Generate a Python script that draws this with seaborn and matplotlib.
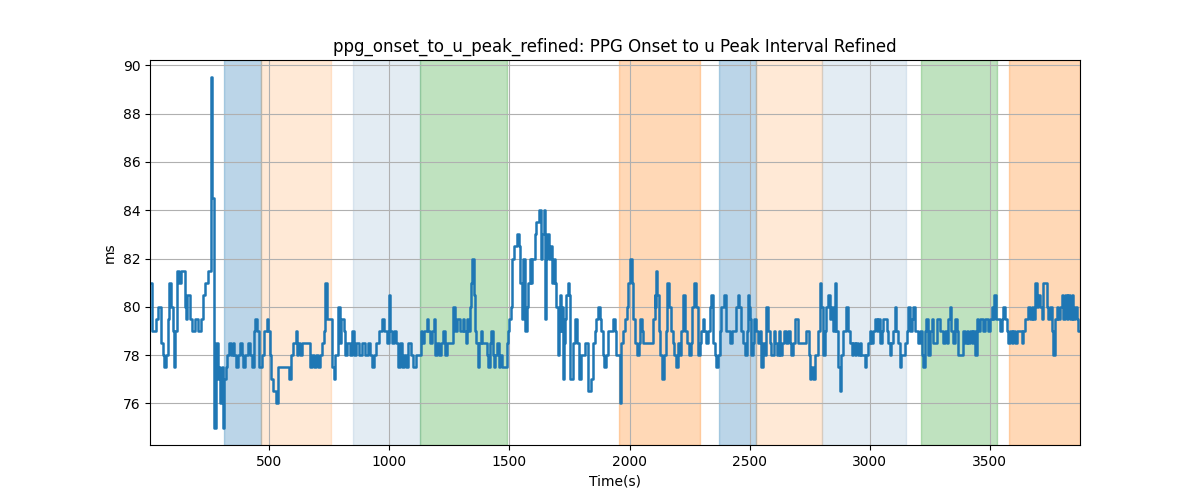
#!/usr/bin/env python3
# -*- coding: utf-8 -*-
"""
PPG onset -> u peak interval (refined), with condition bands shaded behind the trace
"""
import matplotlib
matplotlib.use('Agg')
import matplotlib.pyplot as plt
import seaborn as sns

# ========== data ==========
time_s = [
    4, 12, 30, 38, 48, 58, 64, 72, 80, 85, 90, 100, 103, 110, 118, 125, 135, 150, 155, 160,
    170, 180, 190, 205, 215, 225, 235, 245, 257, 264, 270, 278, 285, 292, 297, 302, 306, 312, 319, 326,
    333, 340, 348, 355, 362, 370, 378, 386, 392, 400, 410, 420, 428, 435, 442, 450, 456, 470, 480, 490,
    497, 503, 508, 515, 528, 535, 583, 590, 600, 611, 615, 622, 628, 635, 645, 660, 672, 680, 687, 695,
    702, 710, 718, 727, 733, 740, 752, 762, 769, 776, 785, 793, 800, 810, 815, 825, 835, 845, 853, 862,
    872, 885, 898, 910, 920, 928, 935, 945, 958, 968, 980, 990, 998, 1004, 1012, 1020, 1028, 1035, 1045, 1052,
    1060, 1068, 1077, 1090, 1100, 1110, 1120, 1130, 1138, 1145, 1155, 1163, 1170, 1178, 1186, 1192, 1198, 1205, 1215, 1225,
    1232, 1240, 1250, 1265, 1272, 1280, 1295, 1305, 1313, 1318, 1322, 1328, 1334, 1340, 1345, 1352, 1358, 1362, 1368, 1375,
    1380, 1386, 1395, 1405, 1412, 1418, 1424, 1430, 1436, 1442, 1448, 1455, 1462, 1470, 1480, 1488, 1495, 1500, 1505, 1510,
    1520, 1530, 1538, 1545, 1552, 1558, 1565, 1572, 1578, 1585, 1590, 1596, 1605, 1612, 1622, 1630, 1636, 1642, 1648, 1652,
    1658, 1664, 1670, 1677, 1684, 1690, 1696, 1702, 1708, 1712, 1716, 1720, 1722, 1726, 1730, 1736, 1742, 1748, 1754, 1764,
    1773, 1781, 1788, 1799, 1815, 1826, 1838, 1848, 1855, 1862, 1868, 1876, 1882, 1888, 1895, 1902, 1910, 1925, 1930, 1938,
    1945, 1960, 1965, 1972, 1980, 1988, 1995, 2002, 2010, 2016, 2022, 2030, 2038, 2045, 2052, 2058, 2070, 2090, 2097, 2104,
    2108, 2111, 2116, 2122, 2128, 2135, 2142, 2150, 2158, 2165, 2172, 2180, 2186, 2194, 2202, 2208, 2215, 2222, 2230, 2240,
    2248, 2255, 2262, 2270, 2277, 2285, 2292, 2298, 2305, 2312, 2320, 2327, 2333, 2340, 2347, 2354, 2361, 2368, 2375, 2382,
    2392, 2400, 2410, 2418, 2425, 2435, 2443, 2450, 2456, 2462, 2472, 2480, 2487, 2493, 2497, 2500, 2507, 2514, 2520, 2528,
    2535, 2542, 2548, 2555, 2562, 2569, 2576, 2583, 2590, 2600, 2607, 2614, 2621, 2628, 2636, 2645, 2652, 2660, 2667, 2673,
    2680, 2687, 2700, 2720, 2735, 2745, 2750, 2757, 2764, 2772, 2785, 2792, 2799, 2806, 2812, 2818, 2826, 2833, 2840, 2847,
    2854, 2861, 2868, 2875, 2882, 2889, 2896, 2903, 2910, 2917, 2924, 2931, 2938, 2944, 2951, 2958, 2965, 2979, 2986, 2993,
    3000, 3007, 3014, 3021, 3028, 3035, 3042, 3049, 3056, 3070, 3076, 3083, 3090, 3097, 3104, 3111, 3118, 3125, 3132, 3146,
    3153, 3160, 3167, 3174, 3181, 3188, 3195, 3202, 3209, 3216, 3222, 3229, 3236, 3243, 3250, 3257, 3264, 3278, 3292, 3298,
    3305, 3312, 3320, 3327, 3332, 3338, 3348, 3354, 3361, 3368, 3385, 3390, 3396, 3403, 3410, 3417, 3424, 3431, 3438, 3445,
    3452, 3459, 3472, 3479, 3493, 3500, 3507, 3514, 3518, 3524, 3535, 3542, 3549, 3556, 3563, 3570, 3577, 3584, 3591, 3598,
    3604, 3611, 3625, 3632, 3639, 3646, 3653, 3660, 3667, 3674, 3681, 3688, 3695, 3702, 3709, 3716, 3722, 3736, 3743, 3750,
    3757, 3764, 3771, 3778, 3785, 3792, 3799, 3806, 3813, 3820, 3827, 3834, 3840, 3847, 3854, 3861, 3868, 3875,
]
ppg_ms = [
    81, 79, 79.5, 80, 78.5, 78, 77.5, 78, 79.5, 81, 80, 79, 77.5, 79, 81.5, 81, 81.5, 80, 79.5, 80.5,
    79.5, 79, 79.5, 79, 79.5, 80.5, 81, 81.5, 89.5, 84.5, 75, 78.5, 77, 77.5, 76, 77.5, 75, 77, 77.5, 78,
    78.5, 78, 78.5, 78, 77.5, 78, 78.5, 78, 77.5, 78, 78.5, 78, 77.5, 79, 79.5, 79, 77.5, 78, 79, 79.5,
    79, 78, 77, 76.5, 76, 77.5, 77, 78, 78.5, 79, 78, 78.5, 78, 78.5, 78.5, 78.5, 77.5, 78, 77.5, 78,
    77.5, 78, 78.5, 79, 81, 79.5, 79.5, 77.5, 77, 78, 80, 78.5, 79.5, 79, 78, 78.5, 78, 79, 78, 78.5,
    78, 78.5, 78, 78.5, 78, 77.5, 78, 78.5, 79, 79.5, 79, 78.5, 80.5, 79, 78.5, 79, 78.5, 77.5, 78.5, 77.5,
    78, 77.5, 78.5, 78, 77.5, 78, 78, 79, 78.5, 79, 79.5, 79, 78.5, 79, 79.5, 78, 78.5, 78, 78.5, 79,
    78, 78.5, 78.5, 80, 79, 79.5, 79, 79.5, 79, 78.5, 79.5, 79, 80, 81, 82, 80.5, 79, 78.5, 77.5, 78.5,
    79, 78.5, 78.5, 78, 77.5, 78.5, 79, 78, 77.5, 78, 78.5, 77.5, 78, 77.5, 77.5, 78.5, 79, 79.5, 80, 82,
    82.5, 83, 82.5, 81, 79.5, 82, 79, 80, 81, 82, 81, 82, 83, 83.5, 84, 82, 83, 84, 79.5, 82,
    83, 82, 82.5, 81, 82, 81, 80, 78, 79, 80.5, 79, 80, 77, 78.5, 79.5, 80.5, 81, 80.5, 77, 78.5,
    79.5, 78.5, 77, 78, 78.5, 76.5, 77, 78.5, 79, 79.5, 80, 79.5, 79, 78, 77.5, 78, 79, 79, 79.5, 79,
    78, 76, 78.5, 79, 79.5, 80, 81, 82, 81, 79.5, 78.5, 78, 78.5, 79.5, 79, 78.5, 78.5, 78.5, 79.5, 80.5,
    80, 81.5, 80.5, 79, 78, 77, 78, 79, 81, 80, 79, 78.5, 78, 77.5, 78.5, 78, 79, 80.5, 79, 78.5,
    78, 78.5, 80, 81, 80, 78, 78.5, 79, 79.5, 79, 78.5, 79, 80, 80.5, 78.5, 78, 77.5, 78, 79, 80,
    80.5, 79, 79, 78.5, 79, 79, 80, 80.5, 80, 79, 78.5, 78, 79, 80.5, 80, 79.5, 78, 78.5, 79.5, 79,
    78.5, 79, 77.5, 78.5, 78, 80, 79, 78.5, 78, 79, 78.5, 78, 79, 78, 78.5, 79, 78.5, 79, 78.5, 78,
    78.5, 79.5, 78.5, 78.5, 79, 78, 77, 77.5, 77, 78, 79, 81, 80, 78, 79, 80, 80.5, 79.5, 80, 79,
    81, 79, 77.5, 76.5, 78, 79, 79, 80, 79, 78.5, 78, 78.5, 78, 78.5, 78, 78.5, 78, 77.5, 78, 78.5,
    79, 78.5, 79, 79.5, 79, 79.5, 78.5, 79, 79.5, 79, 78.5, 78, 78.5, 79, 80, 79, 78.5, 77.5, 78, 78.5,
    79, 80, 79, 79.5, 80, 79, 79, 78.5, 79, 78, 77.5, 79, 79.5, 78, 79, 79.5, 78.5, 79.5, 79, 79,
    78.5, 79, 78.5, 79.5, 80, 79, 78.5, 79.5, 79, 78, 78, 79, 78.5, 79, 78.5, 79, 78.5, 79, 78, 79.5,
    79, 79.5, 79, 79.5, 79, 79.5, 80, 79.5, 80.5, 79.5, 79.5, 79, 79.5, 80, 79.5, 79, 78.5, 79, 78.5, 79,
    78.5, 79, 79, 78.5, 79, 79.5, 79.5, 80, 79.5, 80, 79.5, 81, 80, 80.5, 80, 79.5, 81, 80, 79.5, 80,
    79, 78, 79.5, 80, 79.5, 80, 80.5, 79.5, 80.5, 79.5, 80.5, 79.5, 80.5, 79.5, 80, 79.5, 79, 79,
]

# shaded condition bands: start, end, colour, alpha
band_start = [312, 467, 850, 1129, 1958, 2371, 2525, 2800, 3212, 3579]
band_end = [467, 758, 1129, 1492, 2292, 2525, 2800, 3150, 3529, 3875]
band_color = ['tab:blue', 'tab:orange', 'steelblue', 'tab:green', 'tab:orange',
              'tab:blue', 'tab:orange', 'steelblue', 'tab:green', 'tab:orange']
band_alpha = [0.3, 0.17, 0.15, 0.3, 0.3, 0.3, 0.17, 0.15, 0.3, 0.3]
# ==========================


def main():
    fig, ax = plt.subplots(figsize=(12, 5), dpi=100)

    for s, e, c, a in zip(band_start, band_end, band_color, band_alpha):
        ax.axvspan(s, e, color=c, alpha=a)

    sns.lineplot(x=time_s, y=ppg_ms, ax=ax, color='tab:blue', linewidth=1.8,
                 drawstyle='steps-post', estimator=None)

    ax.set_xlim(min(time_s), max(time_s))
    ax.set_title('ppg_onset_to_u_peak_refined: PPG Onset to u Peak Interval Refined')
    ax.set_xlabel('Time(s)')
    ax.set_ylabel('ms')
    ax.grid(True)

    fig.savefig('out.png', dpi=100)


if __name__ == '__main__':
    main()
